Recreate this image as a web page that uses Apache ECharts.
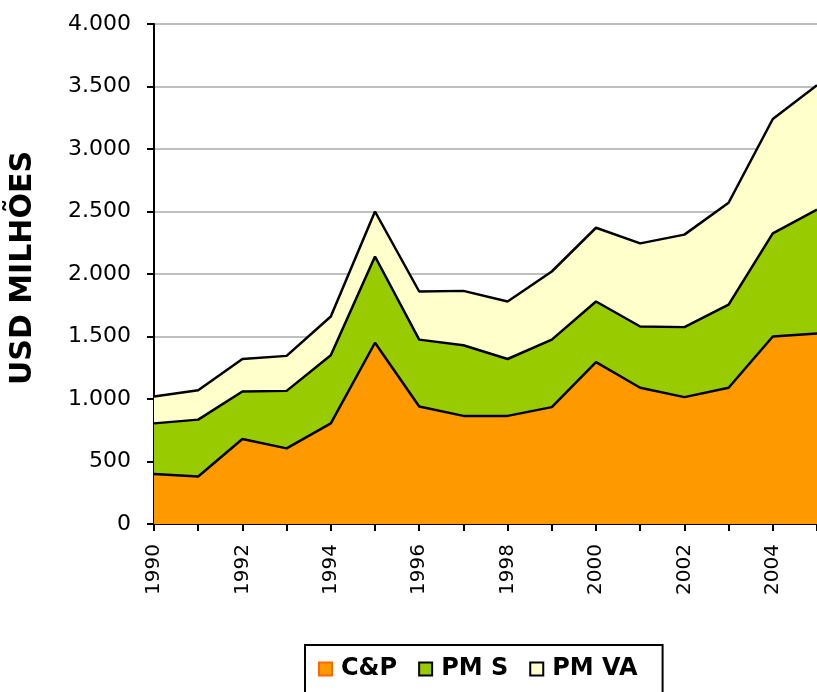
<!DOCTYPE html>
<html>
<head>
<meta charset="utf-8">
<script src="https://cdn.jsdelivr.net/npm/echarts@6/dist/echarts.min.js"></script>
<style>html,body{margin:0;padding:0;background:#fff;}#c{width:817px;height:692px;}</style>
</head>
<body>
<div id="c"></div>
<script>
const years = ['1990','1991','1992','1993','1994','1995','1996','1997','1998','1999','2000','2001','2002','2003','2004','2005'];
const seriesNames = ['C&P', 'PM S', 'PM VA'];
const cpValues   = [400, 380, 680, 605, 805, 1450, 940, 865, 865, 935, 1295, 1090, 1015, 1090, 1500, 1525];
const pmsValues  = [405, 455, 380, 460, 545, 690, 535, 565, 455, 540, 485, 490, 560, 665, 825, 990];
const pmvaValues = [215, 235, 260, 280, 310, 360, 385, 435, 460, 545, 590, 665, 740, 815, 915, 995];
const yMin = 0, yMax = 4000, yStep = 500;

const font = 'DejaVu Sans';
const colors = ['#FF9900', '#99CC00', '#FFFFCC'];
const borders = ['#FF6600', '#000000', '#000000'];
const allValues = [cpValues, pmsValues, pmvaValues];

const chart = echarts.init(document.getElementById('c'));
chart.setOption({
  animation: false,
  backgroundColor: '#ffffff',
  grid: { left: 153, right: 0, top: 24, bottom: 168 },
  legend: {
    left: 305, top: 645,
    padding: [12, 25, 30, 13],
    borderColor: '#000', borderWidth: 2,
    itemWidth: 13, itemHeight: 13, itemGap: 21,
    icon: 'rect',
    textStyle: { fontFamily: font, fontWeight: 'bold', fontSize: 24, color: '#000', padding: [0, 0, 0, 4], lineHeight: 24 },
    data: seriesNames.map((n, i) => ({ name: n, itemStyle: { color: colors[i], borderColor: borders[i], borderWidth: 2 } }))
  },
  xAxis: {
    type: 'category', data: years, boundaryGap: false,
    axisLine: { lineStyle: { color: '#000', width: 2 } },
    axisTick: { show: true, interval: 0, length: 7, lineStyle: { color: '#000', width: 2 } },
    axisLabel: { interval: 1, rotate: 90, margin: 20, fontFamily: font, fontSize: 20, color: '#000' },
    splitLine: { show: false }
  },
  yAxis: {
    type: 'value', min: yMin, max: yMax, interval: yStep,
    name: 'USD MILHÕES', nameLocation: 'middle', nameGap: 116, nameRotate: 90,
    nameTextStyle: { fontFamily: font, fontWeight: 'bold', fontSize: 30, color: '#000', padding: [0, 0, 0, 12] },
    axisLine: { show: true, lineStyle: { color: '#000', width: 2 } },
    axisTick: { show: true, length: 7, lineStyle: { color: '#000', width: 2 } },
    axisLabel: { margin: 23, fontFamily: font, fontSize: 22, color: '#000',
      formatter: v => String(v).replace(/\B(?=(\d{3})+(?!\d))/g, '.') },
    splitLine: { show: true, lineStyle: { color: '#BFBFBF', width: 2 } }
  },
  series: seriesNames.map((n, i) => ({
    name: n, type: 'line', stack: 'total', data: allValues[i],
    symbol: 'none', color: colors[i],
    lineStyle: { color: '#000', width: 2.5 },
    areaStyle: { color: colors[i], opacity: 1 },
    z: 2
  }))
});
</script>
</body>
</html>
